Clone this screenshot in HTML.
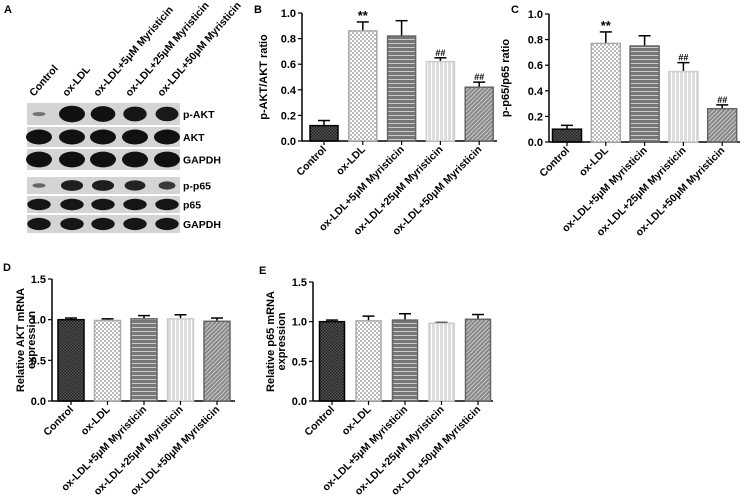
<!DOCTYPE html>
<html><head><meta charset="utf-8"><style>
body{margin:0;background:#fff}
svg{display:block;font-family:"Liberation Sans",Arial,sans-serif}
</style></head><body>
<svg id="fig" width="745" height="496" viewBox="0 0 745 496" xmlns="http://www.w3.org/2000/svg">
<defs>
<pattern id="pCtrl" width="3" height="3" patternUnits="userSpaceOnUse"><rect width="3" height="3" fill="#555"/><rect width="1.5" height="1.5" fill="#222"/><rect x="1.5" y="1.5" width="1.5" height="1.5" fill="#222"/></pattern>
<pattern id="pOx" width="4" height="4" patternUnits="userSpaceOnUse"><rect width="4" height="4" fill="#fff"/><rect width="2" height="2" fill="#bbb"/><rect x="2" y="2" width="2" height="2" fill="#bbb"/></pattern>
<pattern id="p5" width="4" height="4" patternUnits="userSpaceOnUse"><rect width="4" height="4" fill="#777"/><rect y="3" width="4" height="1" fill="#ccc"/></pattern>
<pattern id="p25" width="4" height="4" patternUnits="userSpaceOnUse"><rect width="4" height="4" fill="#ddd"/><rect x="3" width="1" height="4" fill="#fff"/></pattern>
<pattern id="p50" width="3" height="3" patternUnits="userSpaceOnUse" patternTransform="rotate(45)"><rect width="3" height="3" fill="#888"/><rect width="1" height="3" fill="#ccc"/></pattern>
</defs>
<g id="blot"></g>
<g id="charts"></g>
</svg>
<script>
const categories = ["Control","ox-LDL","ox-LDL+5μM Myristicin","ox-LDL+25μM Myristicin","ox-LDL+50μM Myristicin"];
const bValues = [0.12,0.86,0.82,0.62,0.42];
const bErrors = [0.04,0.07,0.12,0.03,0.04];
const bMarks = ["","**","","##","##"];
const cValues = [0.10,0.77,0.75,0.55,0.26];
const cErrors = [0.03,0.09,0.08,0.07,0.03];
const cMarks = ["","**","","##","##"];
const dValues = [1.00,0.99,1.01,1.01,0.98];
const dErrors = [0.02,0.02,0.04,0.05,0.04];
const eValues = [1.00,1.01,1.02,0.98,1.03];
const eErrors = [0.02,0.06,0.08,0.01,0.06];
const ticks1 = [0,0.2,0.4,0.6,0.8,1.0];
const ticks15 = [0,0.5,1.0,1.5];
const blotRows = ["p-AKT","AKT","GAPDH","p-p65","p65","GAPDH"];
const blotIntensity = [[0.25,1,0.95,0.9,0.88],[1,1,1,1,1],[1,1,1,1,1],[0.35,0.85,0.85,0.8,0.65],[0.9,0.9,0.9,0.9,0.9],[0.9,0.9,0.9,0.9,0.9]];

const NS="http://www.w3.org/2000/svg";
const svg=document.getElementById('fig');
function el(t,a,p){const e=document.createElementNS(NS,t);for(const k in a)e.setAttribute(k,a[k]);(p||svg).appendChild(e);return e;}
const fills=["url(#pCtrl)","url(#pOx)","url(#p5)","url(#p25)","url(#p50)"];
const strokes=["#000","#aaa","#666","#ccc","#666"];

function chart(o){
  const g=el('g',{});
  
  
  const ys=v=>o.y0-(v/o.max)*(o.y0-o.y1);
  const xs=i=>o.c0+i*o.step;
  el('line',{x1:o.ax,y1:o.y1,x2:o.ax,y2:o.y0,stroke:'#000','stroke-width':1.5},g);
  el('line',{x1:o.ax,y1:o.y0,x2:o.axEnd,y2:o.y0,stroke:'#000','stroke-width':1.5},g);
  o.ticks.forEach(t=>{
    el('line',{x1:o.ax-4,y1:ys(t),x2:o.ax,y2:ys(t),stroke:'#000','stroke-width':1.2},g);
    const tx=el('text',{x:o.ax-6,y:ys(t)+4,'text-anchor':'end','font-size':11,'font-weight':'bold'},g);
    tx.textContent=t.toFixed(1);
    
    
  });
  o.values.forEach((v,i)=>{
    const x=xs(i),w=o.bw;
    const top=ys(v+o.errors[i]);
    el('line',{x1:x,y1:ys(v),x2:x,y2:top,stroke:'#000','stroke-width':1.5},g);
    el('line',{x1:x-6,y1:top,x2:x+6,y2:top,stroke:'#000','stroke-width':1.5},g);
    const r=el('rect',{x:x-w/2,y:ys(v),width:w,height:o.y0-ys(v),fill:fills[i],stroke:strokes[i],'stroke-width':1.5},g);
    
    
    el('line',{x1:x,y1:o.y0,x2:x,y2:o.y0+4,stroke:'#000','stroke-width':1.2},g);
    if(o.marks&&o.marks[i]){
      const m=el('text',{x:x,y:top-2,'text-anchor':'middle','font-size':o.marks[i]=='**'?13:9,'font-weight':'bold'},g);
      m.textContent=o.marks[i];
      
      
    }
    const lb=el('text',{x:0,y:0,'text-anchor':'end','font-size':10.5,'font-weight':'bold',transform:`translate(${x+3},${o.y0+9}) rotate(-45)`},g);
    lb.textContent=categories[i];
    
    
  });
  o.title.forEach((t,k)=>{
    const tt=el('text',{x:0,y:0,'text-anchor':'middle','font-size':11,'font-weight':'bold',transform:`translate(${o.tx+k*11},${(o.y0+o.y1)/2}) rotate(-90)`},g);
    tt.textContent=t;
    
    
  });
  const L=el('text',{x:o.lx,y:o.ly,'font-size':11,'font-weight':'bold'},g);
  L.textContent=o.letter;
  
  
}
chart({name:'chart-b',values:bValues,errors:bErrors,marks:bMarks,max:1,ticks:ticks1,ax:302,axEnd:497,y0:141,y1:13,c0:324,step:38.8,bw:28,title:['p-AKT/AKT ratio'],tx:267,letter:'B',lx:254,ly:13});
chart({name:'chart-c',values:cValues,errors:cErrors,marks:cMarks,max:1,ticks:ticks1,ax:549,axEnd:740,y0:142,y1:14,c0:567,step:38.8,bw:29,title:['p-p65/p65 ratio'],tx:509,letter:'C',lx:511,ly:13});
chart({name:'chart-d',values:dValues,errors:dErrors,max:1.5,ticks:ticks15,ax:52,axEnd:235,y0:401,y1:279,c0:71,step:36.5,bw:26,title:['Relative AKT mRNA','expression'],tx:24,letter:'D',lx:3,ly:271});
chart({name:'chart-e',values:eValues,errors:eErrors,max:1.5,ticks:ticks15,ax:313,axEnd:493,y0:401,y1:282,c0:332,step:36.5,bw:25,title:['Relative p65 mRNA','expression'],tx:274,letter:'E',lx:259,ly:274});

// Western blot
const blot=document.getElementById('blot');
const A=el('text',{x:4,y:13,'font-size':11,'font-weight':'bold'},blot);A.textContent='A';


const lanes=[39,72,103,135,167];
const rowY=[[103,125],[127,147],[149,170],[177,194],[196,213],[215,233]];
lanes.forEach((x,i)=>{
  const t=el('text',{x:0,y:0,'font-size':10.5,'font-weight':'bold',transform:`translate(${x-5},${97}) rotate(-49)`},blot);
  t.textContent=categories[i];
  
  
});
rowY.forEach((r,j)=>{
  const rr=el('rect',{x:27,y:r[0],width:153,height:r[1]-r[0],fill:'#d4d4d4'},blot);
  
  
  lanes.forEach((x,i)=>{
    const k=blotIntensity[j][i];
    el('ellipse',{cx:x,cy:(r[0]+r[1])/2,rx:13*Math.max(k,0.5),ry:(r[1]-r[0])/2*0.75*k,fill:'#111',opacity:Math.min(1,0.3+k*0.75)},blot);
  });
  const t=el('text',{x:183,y:(r[0]+r[1])/2+4,'font-size':10.5,'font-weight':'bold'},blot);
  t.textContent=blotRows[j];
  
  
});
</script>
</body></html>
